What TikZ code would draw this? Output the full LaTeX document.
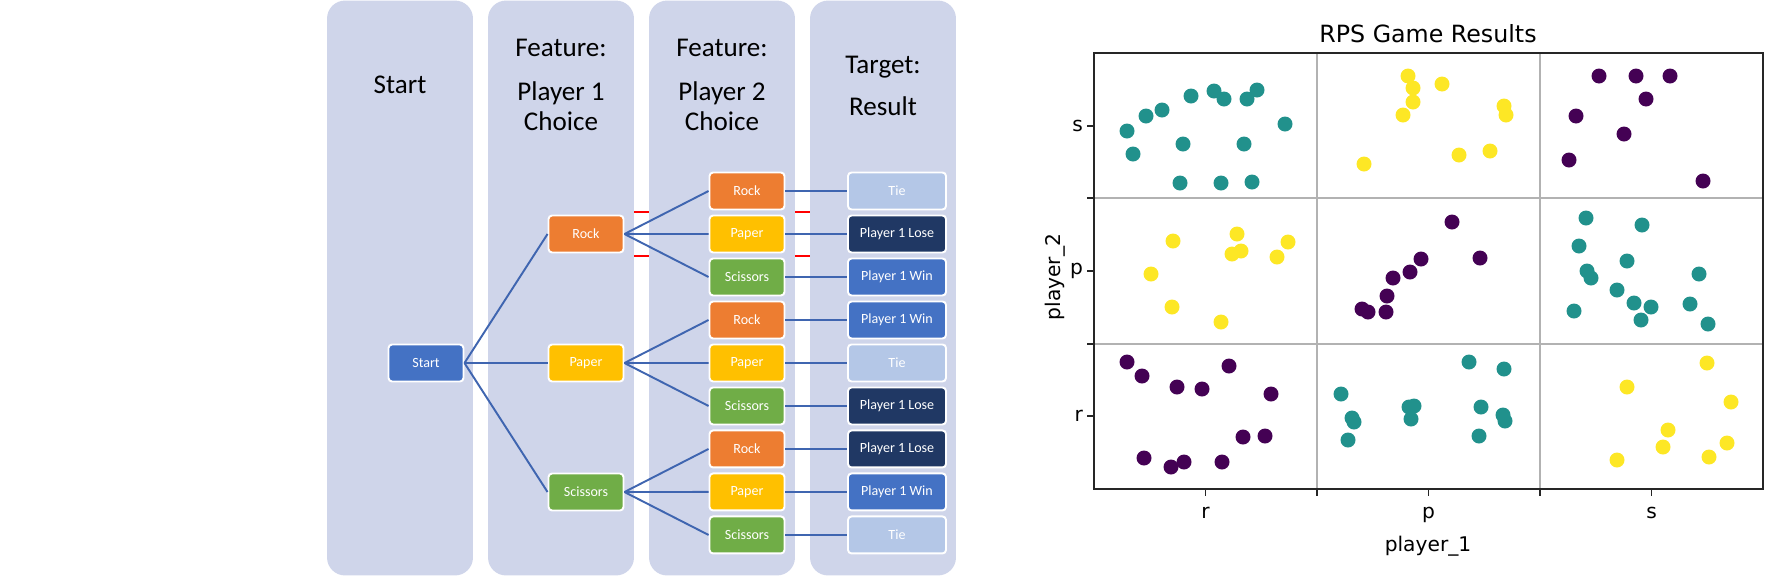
\documentclass[tikz,border=0pt]{standalone}
\usepackage{fontspec}
\setmainfont{Carlito}
\newfontfamily\plotfont{DejaVu Sans}
\usetikzlibrary{positioning}
\definecolor{lanebg}{HTML}{CFD5EA}
\definecolor{startc}{HTML}{4472C4}
\definecolor{rockc}{HTML}{ED7D31}
\definecolor{paperc}{HTML}{FFC000}
\definecolor{scisc}{HTML}{70AD47}
\definecolor{tiec}{HTML}{B4C7E7}
\definecolor{losec}{HTML}{203864}
\definecolor{winc}{HTML}{4472C4}
\definecolor{linkc}{HTML}{3F65B0}
\definecolor{vpurple}{HTML}{440154}
\definecolor{vteal}{HTML}{21918C}
\definecolor{vyellow}{HTML}{FDE725}

\begin{document}
\begin{tikzpicture}[x=0.02cm,y=-0.02cm,node distance=0.86cm,
                    lane/.style={fill=lanebg,rounded corners=0.36cm,minimum width=2.92cm,minimum height=11.5cm,inner sep=0pt},
                    head/.style={align=center,font=\fontsize{15.4}{17.1}\selectfont},
                    box/.style={draw=white,line width=1.1pt,rounded corners=2pt,minimum width=1.5cm,minimum height=0.74cm,inner sep=0pt,text=white,font=\fontsize{8}{9.5}\selectfont},
                    res/.style={box,minimum width=1.96cm},
                    link/.style={draw=linkc,line width=1.1pt},
                    redline/.style={draw=red,line width=1.1pt},
                    gridline/.style={draw=black!30,line width=1.1pt},
                    axisline/.style={draw=black!85,line width=1.1pt},
                    ticklbl/.style={font=\plotfont\fontsize{11.5}{13.5}\selectfont,inner sep=1pt}]

  \useasboundingbox (0,0) rectangle (1784,576);

  \node[lane] (l1) at (400,288) {};
  \node[lane] (l2) at (561,288) {};
  \node[lane] (l3) at (722,288) {};
  \node[lane] (l4) at (883,288) {};

  \node[head] (h1) at (400,85) {Start};
  \node[head] (h2) at (561,85) {Feature:\\[7.5pt]Player 1\\Choice};
  \node[head] (h3) at (722,85) {Feature:\\[7.5pt]Player 2\\Choice};
  \node[head] (h4) at (883,86) {Target:\\[7pt]Result};

  \node[box,fill=startc] (s) at (426,363) {Start};

  \node[box,fill=rockc] (a1) at (586,234) {Rock};
  \node[box,fill=paperc] (a2) at (586,363) {Paper};
  \node[box,fill=scisc] (a3) at (586,492) {Scissors};

  \node[box,fill=rockc] (b1) at (747,191) {Rock};
  \node[box,fill=paperc] (b2) [below of=b1] {Paper};
  \node[box,fill=scisc] (b3) [below of=b2] {Scissors};
  \node[box,fill=rockc] (b4) [below of=b3] {Rock};
  \node[box,fill=paperc] (b5) [below of=b4] {Paper};
  \node[box,fill=scisc] (b6) [below of=b5] {Scissors};
  \node[box,fill=rockc] (b7) [below of=b6] {Rock};
  \node[box,fill=paperc] (b8) [below of=b7] {Paper};
  \node[box,fill=scisc] (b9) [below of=b8] {Scissors};

  \node[res,fill=tiec] (t1) at (897,191) {Tie};
  \node[res,fill=losec] (t2) [below of=t1] {Player 1 Lose};
  \node[res,fill=winc] (t3) [below of=t2] {Player 1 Win};
  \node[res,fill=winc] (t4) [below of=t3] {Player 1 Win};
  \node[res,fill=tiec] (t5) [below of=t4] {Tie};
  \node[res,fill=losec] (t6) [below of=t5] {Player 1 Lose};
  \node[res,fill=losec] (t7) [below of=t6] {Player 1 Lose};
  \node[res,fill=winc] (t8) [below of=t7] {Player 1 Win};
  \node[res,fill=tiec] (t9) [below of=t8] {Tie};

  \foreach \k in {1,2,3}
    \draw[link] (s.east) -- (a\k.west);
  \foreach \k/\m in {1/1,1/2,1/3,2/4,2/5,2/6,3/7,3/8,3/9}
    \draw[link] (a\k.east) -- (b\m.west);
  \foreach \m in {1,...,9}
    \draw[link] (b\m.east) -- (t\m.west);

  \foreach \xa/\xb in {634/649,795/810}
    \foreach \yy in {212,256}
      \draw[redline] (\xa,\yy) -- (\xb,\yy);

  \draw[gridline] (1317,53) -- (1317,489) (1540,53) -- (1540,489)
                  (1094,198.3) -- (1763,198.3) (1094,343.7) -- (1763,343.7);

  \foreach \px/\py in {1127/131,1133/154,1146/116,1162/110,1191/96,1214/91,1224/99,1247/99,1257/90,1285/124,1183/144,1244/144,1180/183,1221/183,1252/182,
                       1341/394,1352/418,1354/422,1348/440,1469/362,1504/369,1409/407,1414/406,1411/419,1481/407,1503/415,1505/421,1479/436,
                       1586/218,1579/246,1587/271,1591/278,1642/225,1627/261,1699/274,1617/290,1634/303,1651/307,1641/320,1690/304,1708/324,1574/311}
    \fill[vteal] (\px,\py) circle (0.15cm);
  \foreach \px/\py in {1173/241,1237/234,1241/251,1232/254,1288/242,1277/257,1151/274,1172/307,1221/322,
                       1408/76,1413/88,1413/102,1403/115,1442/84,1504/106,1506/115,1364/164,1459/155,1490/151,
                       1707/363,1627/387,1731/402,1668/430,1663/447,1727/443,1617/460,1709/457}
    \fill[vyellow] (\px,\py) circle (0.15cm);
  \foreach \px/\py in {1127/362,1142/376,1177/387,1202/389,1229/366,1271/394,1243/437,1265/436,1144/458,1171/467,1184/462,1222/462,
                       1452/222,1480/258,1421/259,1410/272,1393/278,1387/296,1362/309,1368/312,1386/312,
                       1599/76,1636/76,1670/76,1576/116,1646/99,1624/134,1569/160,1703/181}
    \fill[vpurple] (\px,\py) circle (0.15cm);

  \draw[axisline] (1094,53) rectangle (1763,489);
  \foreach \yy in {125.7,198.3,271,343.7,416.3}
    \draw[axisline] (1087,\yy) -- (1094,\yy);
  \foreach \xx in {1205.5,1317,1428.5,1540,1651.5}
    \draw[axisline] (\xx,489) -- (\xx,496);

  \node[ticklbl,anchor=east] (ys) at (1085,125.7) {s};
  \node[ticklbl,anchor=east] (yp) at (1085,271) {p};
  \node[ticklbl,anchor=east] (yr) at (1085,416.3) {r};
  \node[ticklbl,anchor=north] (xr) at (1205.5,505) {r};
  \node[ticklbl,anchor=north] (xp) at (1428.5,505) {p};
  \node[ticklbl,anchor=north] (xs) at (1651.5,505) {s};

  \node[ticklbl] (xlbl) at (1428,546) {player\_1};
  \node[ticklbl,rotate=90] (ylbl) at (1055,277) {player\_2};
  \node[font=\plotfont\fontsize{13.5}{16}\selectfont] (ttl) at (1428,34) {RPS Game Results};
\end{tikzpicture}
\end{document}
